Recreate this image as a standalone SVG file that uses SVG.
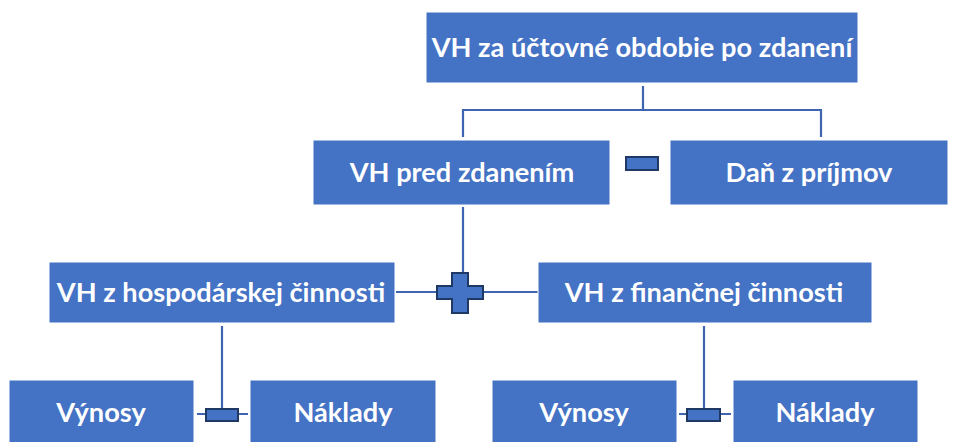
<svg xmlns="http://www.w3.org/2000/svg" width="964" height="442" viewBox="0 0 964 442">
<style>
.box{fill:#4472C4;stroke:#ffffff;stroke-width:1}
.t{fill:#ffffff;font-family:Lato,"Liberation Sans",sans-serif;font-weight:bold;font-size:27.2px;text-anchor:middle}
.ln{stroke:#3F65B0;stroke-width:2.2;fill:none}
.op{fill:#4472C4;stroke:#1F3864;stroke-width:2}
</style>
<rect width="964" height="442" fill="#ffffff"/>
<g id="connectors">
<path class="ln" d="M643,86V110M463,110H821M463,109V137M821,109V137"/>
<path class="ln" d="M463,207V273"/>
<path class="ln" d="M396,292H437M484,292H538"/>
<path class="ln" d="M222,326V409M197,414H206M238,414H248"/>
<path class="ln" d="M704,326V409M679,414H687M720,414H731"/>
</g>
<g id="op-minus-top"><rect class="op" x="626" y="157" width="32" height="13"/></g>
<g id="op-plus"><path class="op" d="M452,273H468V286H483V299H468V313H452V299H437V286H452Z"/></g>
<g id="op-minus-left"><rect class="op" x="206" y="409" width="32" height="12"/></g>
<g id="op-minus-right"><rect class="op" x="687" y="409" width="33" height="12"/></g>
<g id="n-top"><rect class="box" x="426" y="12" width="432" height="71"/><text class="t" x="642" y="57">VH za účtovné obdobie po zdanení</text></g>
<g id="n-pred"><rect class="box" x="313" y="140" width="297" height="65"/><text class="t" x="462" y="182">VH pred zdanením</text></g>
<g id="n-dan"><rect class="box" x="670" y="140" width="278" height="65"/><text class="t" x="809" y="182">Daň z príjmov</text></g>
<g id="n-hosp"><rect class="box" x="49" y="262" width="346" height="61"/><text class="t" x="221" y="302">VH z hospodárskej činnosti</text></g>
<g id="n-fin"><rect class="box" x="538" y="262" width="334" height="61"/><text class="t" x="704" y="302">VH z finančnej činnosti</text></g>
<g id="n-vyn1"><rect class="box" x="9" y="380" width="185" height="70"/><text class="t" x="101" y="422">Výnosy</text></g>
<g id="n-nak1"><rect class="box" x="250" y="380" width="186" height="70"/><text class="t" x="343" y="422">Náklady</text></g>
<g id="n-vyn2"><rect class="box" x="492" y="380" width="185" height="70"/><text class="t" x="584" y="422">Výnosy</text></g>
<g id="n-nak2"><rect class="box" x="733" y="380" width="185" height="70"/><text class="t" x="825" y="422">Náklady</text></g>
</svg>
